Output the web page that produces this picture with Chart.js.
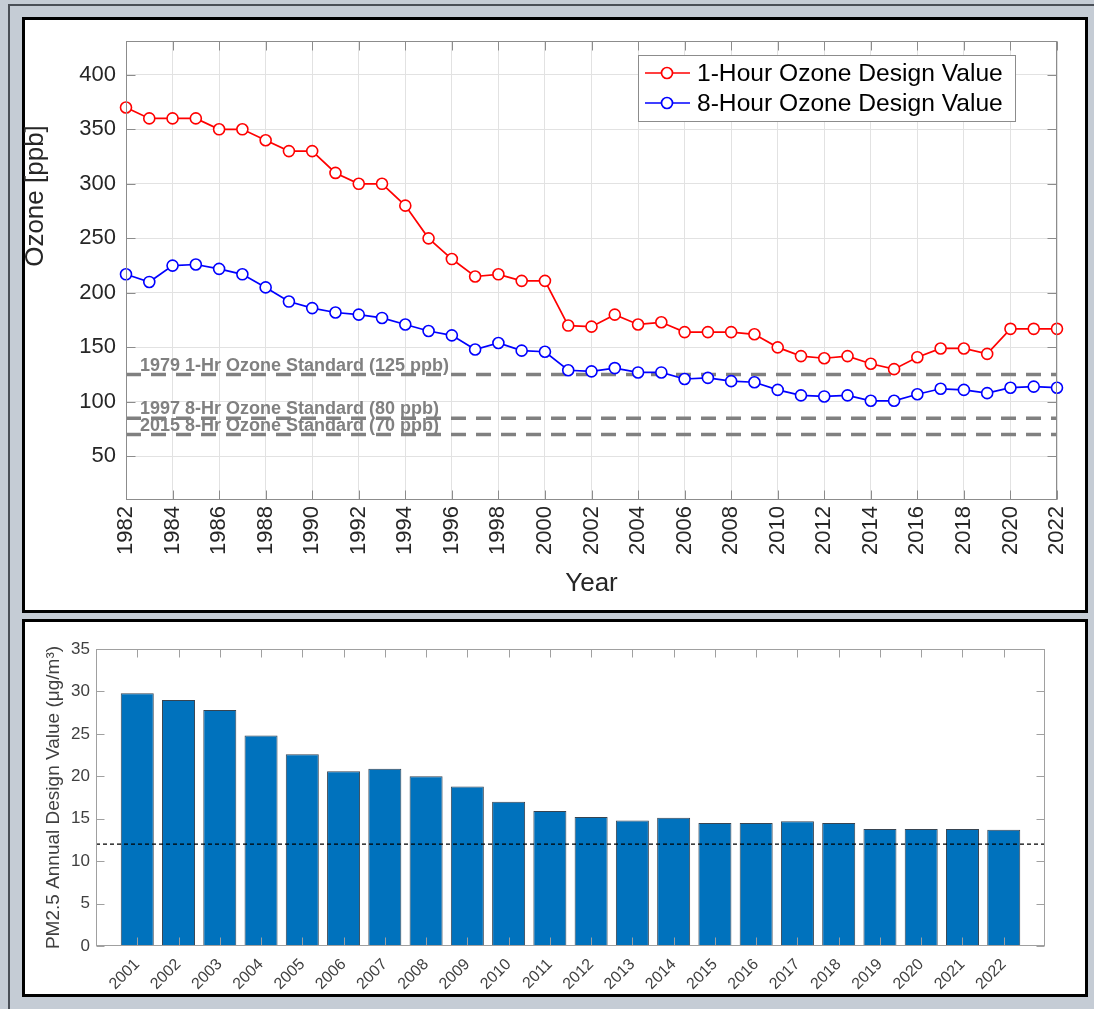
<!DOCTYPE html>
<html>
<head>
<meta charset="utf-8">
<title>Ozone and PM2.5 Design Values</title>
<script src="https://cdn.jsdelivr.net/npm/chart.js@4.4.1/dist/chart.umd.min.js"></script>
<style>
    body { margin: 0; width: 1094px; height: 1009px; background: #c5ccd5; position: relative; overflow: hidden; }
    .edge-top { position: absolute; left: 8px; top: 4px; width: 1086px; height: 2px; background: #4a4f57; }
    .edge-left { position: absolute; left: 8px; top: 4px; width: 2px; height: 1005px; background: #4a4f57; }
    .panel { position: absolute; left: 22px; width: 1066px; background: #fff; border: 3px solid #000; box-sizing: border-box; }
    #p1 { top: 17px; height: 596px; }
    #p2 { top: 619px; height: 378px; }
    canvas { position: absolute; left: 0; }
    #ozoneChart { top: 0; }
    #pmChart { top: 612px; }
</style>
</head>
<body>
<div class="edge-top"></div>
<div class="edge-left"></div>
<div class="panel" id="p1"></div>
<div class="panel" id="p2"></div>
<canvas id="ozoneChart" width="1094" height="612"></canvas>
<canvas id="pmChart" width="1094" height="397"></canvas>

<script>
// ozone design values (ppb)
const years = [1982, 1983, 1984, 1985, 1986, 1987, 1988, 1989, 1990, 1991,
    1992, 1993, 1994, 1995, 1996, 1997, 1998, 1999, 2000, 2001,
    2002, 2003, 2004, 2005, 2006, 2007, 2008, 2009, 2010, 2011,
    2012, 2013, 2014, 2015, 2016, 2017, 2018, 2019, 2020, 2021, 2022];
const oneHourDV = [370, 360, 360, 360, 350, 350, 340, 330, 330, 310,
    300, 300, 280, 250, 231, 215, 217, 211, 211, 170,
    169, 180, 171, 173, 164, 164, 164, 162, 150, 142,
    140, 142, 135, 130, 141, 149, 149, 144, 167, 167, 167];
const eightHourDV = [217, 210, 225, 226, 222, 217, 205, 192, 186, 182,
    180, 177, 171, 165, 161, 148, 154, 147, 146, 129,
    128, 131, 127, 127, 121, 122, 119, 118, 111, 106,
    105, 106, 101, 101, 107, 112, 111, 108, 113, 114, 113];
const standardValues = [125, 85, 70];
const standardLabels = ["1979 1-Hr Ozone Standard (125 ppb)",
    "1997 8-Hr Ozone Standard (80 ppb)",
    "2015 8-Hr Ozone Standard (70 ppb)"];
const ozoneXTicks = [1982, 1984, 1986, 1988, 1990, 1992, 1994, 1996, 1998, 2000, 2002,
    2004, 2006, 2008, 2010, 2012, 2014, 2016, 2018, 2020, 2022];
const ozoneYTicks = [50, 100, 150, 200, 250, 300, 350, 400];

// PM2.5 annual design values (ug/m3)
const pmYears = [2001, 2002, 2003, 2004, 2005, 2006, 2007, 2008, 2009, 2010, 2011,
    2012, 2013, 2014, 2015, 2016, 2017, 2018, 2019, 2020, 2021, 2022];
const pmValues = [29.8, 29.0, 27.8, 24.8, 22.6, 20.6, 20.9, 20.0, 18.8, 17.0, 15.9,
    15.2, 14.8, 15.1, 14.5, 14.5, 14.7, 14.5, 13.8, 13.8, 13.8, 13.7];
const pmStandard = 12;
const pmXRange = [2000, 2023];
const pmYTicks = [0, 5, 10, 15, 20, 25, 30, 35];

const FONT = '"Liberation Sans", Arial, Helvetica, sans-serif';

// matlab style box with inward ticks
const boxTicks = {
    id: 'boxTicks',
    afterDatasetsDraw(chart, args, opts) {
        const { ctx, chartArea: a, scales } = chart;
        const L = opts.len || 8;
        const l = Math.round(a.left) + 0.5, r = Math.round(a.right) - 0.5;
        const t = Math.round(a.top) + 0.5, b = Math.round(a.bottom) - 0.5;
        ctx.save();
        ctx.strokeStyle = opts.color || '#8c8c8c';
        ctx.lineWidth = 1;
        ctx.beginPath();
        scales.x.ticks.forEach(tk => {
            const px = Math.round(scales.x.getPixelForValue(tk.value)) + 0.5;
            ctx.moveTo(px, b); ctx.lineTo(px, b - L);
            ctx.moveTo(px, t); ctx.lineTo(px, t + L);
        });
        scales.y.ticks.forEach(tk => {
            const py = Math.round(scales.y.getPixelForValue(tk.value)) + 0.5;
            ctx.moveTo(l, py); ctx.lineTo(l + L, py);
            ctx.moveTo(r, py); ctx.lineTo(r - L, py);
        });
        ctx.stroke();
        ctx.strokeRect(l, t, r - l, b - t);
        ctx.restore();
    }
};

const standardText = {
    id: 'standardText',
    afterDatasetsDraw(chart, args, opts) {
        if (!opts.labels) return;
        const { ctx, chartArea: a, scales } = chart;
        ctx.save();
        ctx.font = 'bold 18px ' + FONT;
        ctx.fillStyle = '#808080';
        ctx.textAlign = 'left';
        ctx.textBaseline = 'alphabetic';
        opts.labels.forEach((txt, i) => {
            const py = scales.y.getPixelForValue(opts.values[i]);
            ctx.fillText(txt, a.left + 14, py - 4);
        });
        ctx.restore();
    }
};

// y label drawn by hand, it sits above the middle of the axis in the original
const sideTitle = {
    id: 'sideTitle',
    afterDraw(chart, args, opts) {
        if (!opts.text) return;
        const { ctx } = chart;
        ctx.save();
        ctx.translate(opts.x, opts.y);
        ctx.rotate(-Math.PI / 2);
        ctx.font = opts.font;
        ctx.fillStyle = opts.color;
        ctx.textAlign = 'center';
        ctx.textBaseline = 'middle';
        ctx.fillText(opts.text, 0, 0);
        ctx.restore();
    }
};

const insideLegend = {
    id: 'insideLegend',
    afterDraw(chart, args, opts) {
        if (!opts.box) return;
        const { ctx } = chart;
        const [x0, y0, w, h] = opts.box;
        ctx.save();
        ctx.fillStyle = '#fff';
        ctx.fillRect(x0, y0, w, h);
        ctx.strokeStyle = '#8c8c8c';
        ctx.lineWidth = 1;
        ctx.strokeRect(x0 + 0.5, y0 + 0.5, w, h);
        chart.data.datasets.filter(d => d.label).forEach((d, i) => {
            const y = y0 + 18 + i * 30;
            ctx.strokeStyle = d.borderColor;
            ctx.lineWidth = 1.7;
            ctx.beginPath();
            ctx.moveTo(x0 + 7, y); ctx.lineTo(x0 + 52, y);
            ctx.stroke();
            ctx.beginPath();
            ctx.arc(x0 + 29, y, 5.5, 0, Math.PI * 2);
            ctx.fillStyle = '#fff';
            ctx.fill();
            ctx.stroke();
            ctx.fillStyle = '#000';
            ctx.font = '24.6px ' + FONT;
            ctx.textBaseline = 'middle';
            ctx.fillText(d.label, x0 + 59, y + 1);
        });
        ctx.restore();
    }
};

function seriesPoints(xs, ys) {
    return xs.map((x, i) => ({ x: x, y: ys[i] }));
}

function seriesStyle(color) {
    return {
        borderColor: color,
        backgroundColor: '#fff',
        borderWidth: 1.7,
        pointRadius: 5.5,
        pointBorderWidth: 1.6,
        pointBackgroundColor: '#fff',
        pointBorderColor: color,
        clip: false,
        order: 0
    };
}

// top chart: ozone
const ozoneSets = [
    Object.assign({ label: '1-Hour Ozone Design Value', data: seriesPoints(years, oneHourDV) }, seriesStyle('#ff0000')),
    Object.assign({ label: '8-Hour Ozone Design Value', data: seriesPoints(years, eightHourDV) }, seriesStyle('#0000ff'))
];
standardValues.forEach(v => {
    ozoneSets.push({
        data: [{ x: years[0], y: v }, { x: years[years.length - 1], y: v }],
        borderColor: '#808080',
        borderWidth: 3.5,
        borderDash: [15, 10],
        pointRadius: 0,
        order: 1
    });
});

new Chart(document.getElementById('ozoneChart'), {
    type: 'line',
    data: { datasets: ozoneSets },
    options: {
        responsive: false,
        animation: false,
        layout: { padding: { top: 41, right: 37, left: 0, bottom: 0 } },
        plugins: {
            legend: { display: false },
            tooltip: { enabled: false },
            boxTicks: { len: 9, color: '#8c8c8c' },
            standardText: { labels: standardLabels, values: standardValues },
            insideLegend: { box: [638, 55, 377, 66] },
            sideTitle: { text: 'Ozone [ppb]', x: 36, y: 196, font: '26px ' + FONT, color: '#262626' }
        },
        scales: {
            x: {
                type: 'linear',
                min: years[0],
                max: years[years.length - 1],
                afterBuildTicks: s => { s.ticks = ozoneXTicks.map(v => ({ value: v })); },
                afterFit: s => { s.height = 112; },
                grid: { color: '#e2e2e2', drawTicks: false },
                border: { display: false },
                ticks: {
                    autoSkip: false, minRotation: 90, maxRotation: 90, padding: 6,
                    color: '#262626', font: { family: FONT, size: 22 },
                    callback: v => String(v)
                },
                title: {
                    display: true, text: 'Year', color: '#262626',
                    font: { family: FONT, size: 26 }, padding: { top: 0, bottom: 13 }
                }
            },
            y: {
                min: 10,
                max: 431,
                afterBuildTicks: s => { s.ticks = ozoneYTicks.map(v => ({ value: v })); },
                afterFit: s => { s.width = 126; },
                grid: { color: '#e2e2e2', drawTicks: false },
                border: { display: false },
                ticks: {
                    padding: 10, color: '#262626', font: { family: FONT, size: 22 },
                    callback: v => String(v)
                }
            }
        }
    },
    plugins: [boxTicks, standardText, insideLegend, sideTitle]
});

// bottom chart: PM2.5
new Chart(document.getElementById('pmChart'), {
    type: 'bar',
    data: {
        datasets: [
            {
                type: 'line',
                data: [{ x: pmXRange[0], y: pmStandard }, { x: pmXRange[1], y: pmStandard }],
                borderColor: '#000',
                borderWidth: 1.2,
                borderDash: [4, 3],
                pointRadius: 0,
                order: 0
            },
            {
                type: 'bar',
                data: seriesPoints(pmYears, pmValues),
                backgroundColor: '#0072bd',
                borderColor: 'rgba(20, 35, 50, 0.85)',
                borderWidth: 1,
                categoryPercentage: 1,
                barPercentage: 0.8,
                order: 1
            }
        ]
    },
    options: {
        responsive: false,
        animation: false,
        layout: { padding: { top: 37, right: 49, left: 0, bottom: 0 } },
        plugins: {
            legend: { display: false },
            tooltip: { enabled: false },
            boxTicks: { len: 8, color: '#a0a0a0' }
        },
        scales: {
            x: {
                type: 'linear',
                min: pmXRange[0],
                max: pmXRange[1],
                offset: false,
                afterBuildTicks: s => { s.ticks = pmYears.map(v => ({ value: v })); },
                afterFit: s => { s.height = 63; },
                grid: { display: false, drawTicks: false },
                border: { display: false },
                ticks: {
                    autoSkip: false, minRotation: 45, maxRotation: 45, padding: 9,
                    color: '#404040', font: { family: FONT, size: 16 },
                    callback: v => String(v)
                }
            },
            y: {
                min: 0,
                max: 35,
                afterBuildTicks: s => { s.ticks = pmYTicks.map(v => ({ value: v })); },
                afterFit: s => { s.width = 96; },
                grid: { display: false, drawTicks: false },
                border: { display: false },
                ticks: {
                    padding: 6, color: '#404040', font: { family: FONT, size: 17 },
                    callback: v => String(v)
                },
                title: {
                    display: true, text: 'PM2.5 Annual Design Value (μg/m³)', color: '#404040',
                    font: { family: FONT, size: 19 }, padding: { top: 42, bottom: 0 }
                }
            }
        }
    },
    plugins: [boxTicks]
});
</script>
</body>
</html>
